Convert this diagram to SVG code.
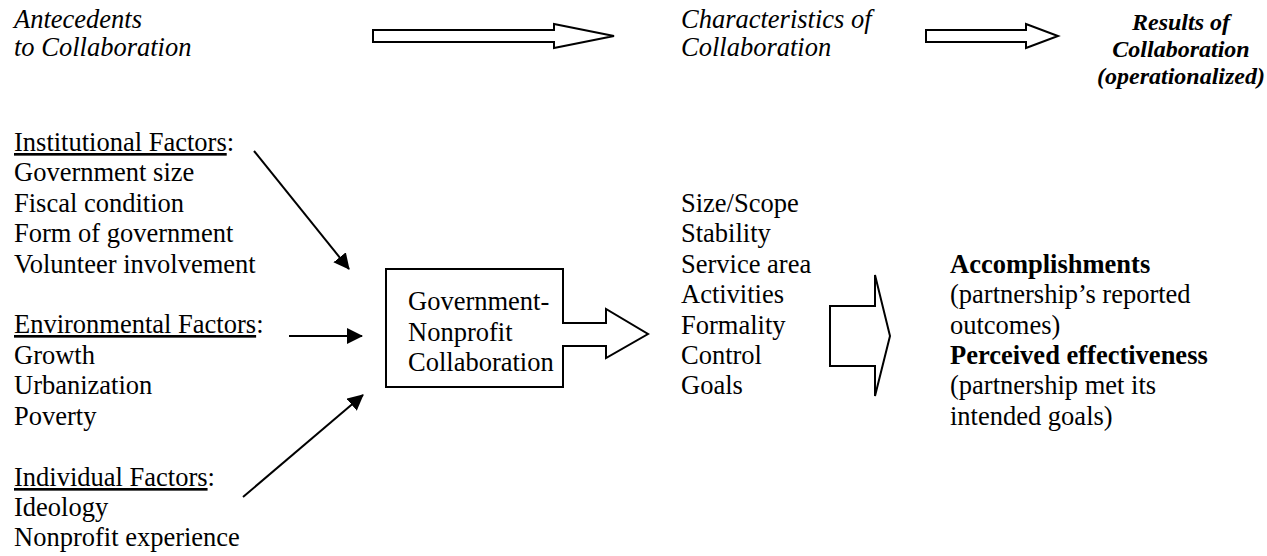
<svg xmlns="http://www.w3.org/2000/svg" width="1267" height="556" viewBox="0 0 1267 556">
  <defs>
    <marker id="head" markerWidth="16" markerHeight="16" refX="15" refY="8" orient="auto" markerUnits="userSpaceOnUse">
      <path d="M0,0 L16,8 L0,16 z" fill="#000"/>
    </marker>
  </defs>
  <style>
    text { font-family: "Liberation Serif", "Times New Roman", Times, "DejaVu Serif", serif; font-size: 26.5px; fill: #000; }
    .it { font-style: italic; }
    .bi { font-style: italic; font-weight: bold; font-size: 24px; }
    .b { font-weight: bold; }
    .outline { fill: #fff; stroke: #000; stroke-width: 2; stroke-linejoin: miter; }
    .link { stroke: #000; stroke-width: 2; fill: none; marker-end: url(#head); }
  </style>
  <rect width="1267" height="556" fill="#fff"/>

  <!-- column headings -->
  <g id="heading-antecedents">
    <text class="it" x="14" y="28">Antecedents</text>
    <text class="it" x="14" y="56">to Collaboration</text>
  </g>
  <g id="heading-characteristics">
    <text class="it" x="681" y="28">Characteristics of</text>
    <text class="it" x="681" y="56">Collaboration</text>
  </g>
  <g id="heading-results">
    <text class="bi" x="1181" y="30" text-anchor="middle">Results of</text>
    <text class="bi" x="1181" y="57" text-anchor="middle">Collaboration</text>
    <text class="bi" x="1181" y="84" text-anchor="middle">(operationalized)</text>
  </g>

  <!-- antecedent factor lists -->
  <g id="institutional-factors">
    <text x="14" y="151"><tspan text-decoration="underline">Institutional Factors</tspan>:</text>
    <text x="14" y="181">Government size</text>
    <text x="14" y="212">Fiscal condition</text>
    <text x="14" y="242">Form of government</text>
    <text x="14" y="273">Volunteer involvement</text>
  </g>
  <g id="environmental-factors">
    <text x="14" y="333"><tspan text-decoration="underline">Environmental Factors</tspan>:</text>
    <text x="14" y="364">Growth</text>
    <text x="14" y="394">Urbanization</text>
    <text x="14" y="425">Poverty</text>
  </g>
  <g id="individual-factors">
    <text x="14" y="486"><tspan text-decoration="underline">Individual Factors</tspan>:</text>
    <text x="14" y="516">Ideology</text>
    <text x="14" y="546">Nonprofit experience</text>
  </g>

  <!-- central collaboration box with its outgoing block arrow -->
  <g id="collaboration">
    <path class="outline" d="M386,269 H563 V323 H606 V309 L648,334 L606,358 V346 H563 V387 H386 Z"/>
    <text x="408" y="310">Government-</text>
    <text x="408" y="341">Nonprofit</text>
    <text x="408" y="371">Collaboration</text>
  </g>

  <!-- characteristics list -->
  <g id="characteristics">
    <text x="681" y="212">Size/Scope</text>
    <text x="681" y="242">Stability</text>
    <text x="681" y="273">Service area</text>
    <text x="681" y="303">Activities</text>
    <text x="681" y="334">Formality</text>
    <text x="681" y="364">Control</text>
    <text x="681" y="394">Goals</text>
  </g>

  <!-- results list -->
  <g id="results">
    <text class="b" x="950" y="273">Accomplishments</text>
    <text x="950" y="303">(partnership’s reported</text>
    <text x="950" y="334">outcomes)</text>
    <text class="b" x="950" y="364">Perceived effectiveness</text>
    <text x="950" y="394">(partnership met its</text>
    <text x="950" y="425">intended goals)</text>
  </g>

  <!-- connectors -->
  <g id="connectors">
    <path class="outline" d="M373,30 H554 V24 L614,36 L554,48 V42 H373 Z"/>
    <path class="outline" d="M926,30 H1026 V24 L1058,36 L1026,48 V42 H926 Z"/>
    <path class="outline" d="M830,306 H875 V275 L890,336 L875,396 V366 H830 Z"/>
    <line class="link" x1="254" y1="151" x2="349" y2="269"/>
    <line class="link" x1="289" y1="336" x2="362" y2="336"/>
    <line class="link" x1="243" y1="497" x2="363" y2="395"/>
  </g>
</svg>
